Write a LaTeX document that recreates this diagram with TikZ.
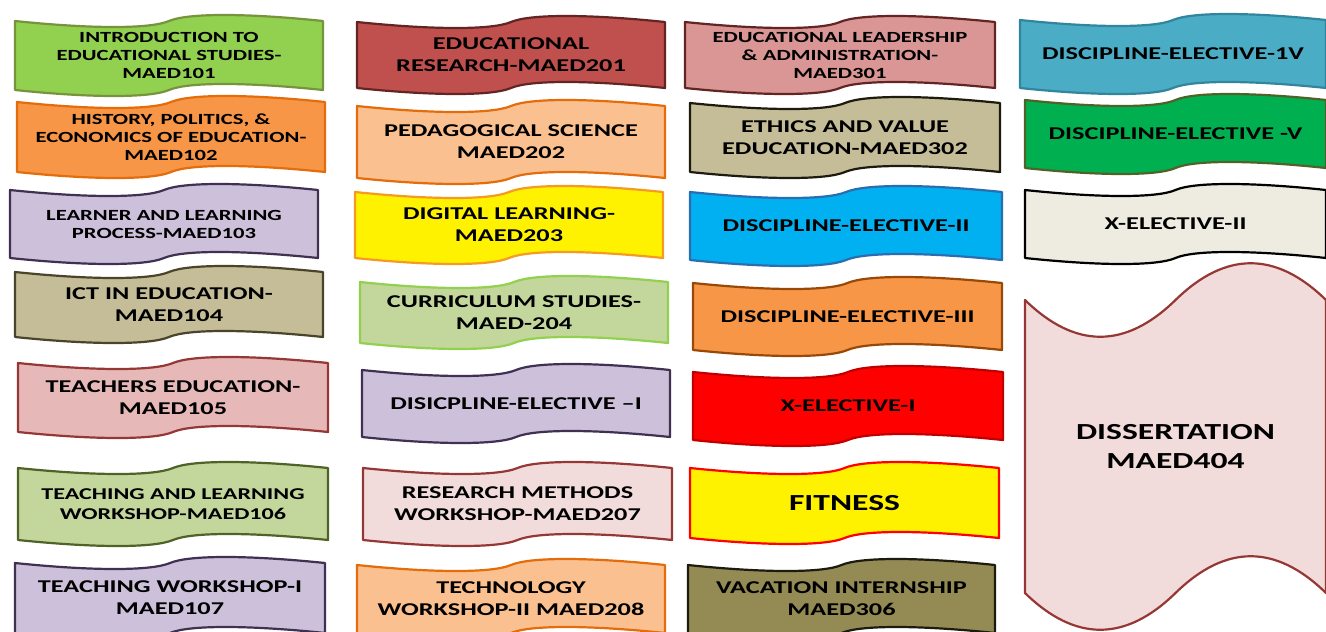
\documentclass[tikz,border=0pt]{standalone}
\usepackage{fontspec}
\setmainfont{Carlito}[FakeStretch=1.46]
\usetikzlibrary{calc}
\definecolor{introF}{HTML}{92D050}\definecolor{introD}{HTML}{77933C}
\definecolor{orgF}{HTML}{F79646}\definecolor{orgD}{HTML}{E46C0A}
\definecolor{lavF}{HTML}{CCC0DA}\definecolor{lavD}{HTML}{403152}
\definecolor{tanF}{HTML}{C4BD97}\definecolor{tanD}{HTML}{4A452A}
\definecolor{roseF}{HTML}{E6B9B8}\definecolor{roseD}{HTML}{953735}
\definecolor{oliveF}{HTML}{C3D69B}\definecolor{oliveD}{HTML}{4F6228}
\definecolor{redF}{HTML}{C0504D}\definecolor{redD}{HTML}{632523}
\definecolor{peachF}{HTML}{FAC090}
\definecolor{yelD}{HTML}{F59A23}
\definecolor{pinkF}{HTML}{F2DCDB}
\definecolor{salmF}{HTML}{D99694}
\definecolor{darkD}{HTML}{1D1B10}
\definecolor{skyF}{HTML}{00B0F0}\definecolor{skyD}{HTML}{2A6DB0}
\definecolor{brownD}{HTML}{984807}
\definecolor{xredD}{HTML}{C00000}
\definecolor{khakiF}{HTML}{948A54}
\definecolor{tealF}{HTML}{4BACC6}\definecolor{tealD}{HTML}{31859C}
\definecolor{grnF}{HTML}{00B050}
\definecolor{creamF}{HTML}{EEECE1}
\tikzset{
  tape/.style={line width=2.2pt,line join=round},
  lbl/.style={align=center,inner sep=0pt,font=\bfseries\fontsize{18}{22}\selectfont},
  lblmid/.style={font=\bfseries\fontsize{16.5}{20}\selectfont},
  lblsmall/.style={font=\bfseries\fontsize{15.5}{18}\selectfont},
  lblbig/.style={font=\bfseries\fontsize{23}{29}\selectfont},
}
% wave banner: name, left, top, right, bottom, fill, border, label style, text
\def\wa{8}\def\wc{0.25}\def\wn{0.06}
\newcommand{\wavebox}[9]{%
  \pgfmathsetmacro{\wM}{(#2+#4)/2}%
  \pgfmathsetmacro{\wq}{(#4-#2)*\wc}%
  \pgfmathsetmacro{\wr}{(#4-#2)*\wn}%
  \draw[tape,fill=#6,draw=#7] (#2,#3)
    .. controls ({#2+\wq},{#3+\wa}) and ({\wM-\wr},{#3+\wa}) .. (\wM,#3)
    .. controls ({\wM+\wr},{#3-\wa}) and ({#4-\wq},{#3-\wa}) .. (#4,#3)
    -- (#4,#5)
    .. controls ({#4-\wq},{#5-\wa}) and ({\wM+\wr},{#5-\wa}) .. (\wM,#5)
    .. controls ({\wM-\wr},{#5+\wa}) and ({#2+\wq},{#5+\wa}) .. (#2,#5)
    -- cycle;
  \node[lbl,#8] (#1) at (\wM,{(#3+#5)/2}) {#9};
}

\begin{document}
\begin{tikzpicture}[x=1pt,y=-1pt]
  \useasboundingbox (0,0) rectangle (1326,632);
  \clip (0,0) rectangle (1326,632);
  % first semester
  \wavebox{intro}{15}{21}{323}{90}{introF}{introD}{lblsmall}{INTRODUCTION TO\\EDUCATIONAL STUDIES-\\MAED101}
  \wavebox{history}{17}{102}{325}{172}{orgF}{orgD}{lblsmall}{HISTORY, POLITICS, \&\\ECONOMICS OF EDUCATION-\\MAED102}
  \wavebox{learner}{10}{190}{318}{258}{lavF}{lavD}{lblsmall}{LEARNER AND LEARNING\\PROCESS-MAED103}
  \wavebox{ict}{15}{272}{323}{337}{tanF}{tanD}{}{ICT IN EDUCATION-\\MAED104}
  \wavebox{teachers}{18}{363}{328}{432}{roseF}{roseD}{}{TEACHERS EDUCATION-\\MAED105}
  \wavebox{tlworkshop}{18}{468}{328}{540}{oliveF}{oliveD}{lblmid}{TEACHING AND LEARNING\\WORKSHOP-MAED106}
  \wavebox{tworkshop}{15}{563}{325}{633}{lavF}{lavD}{}{TEACHING WORKSHOP-I\\MAED107}
  % second semester
  \wavebox{research}{357}{22}{665}{88}{redF}{redD}{}{EDUCATIONAL\\RESEARCH-MAED201}
  \wavebox{pedagogy}{357}{106}{665}{178}{peachF}{orgD}{}{PEDAGOGICAL SCIENCE\\MAED202}
  \wavebox{digital}{355}{192}{663}{258}{yellow}{yelD}{}{DIGITAL LEARNING-\\MAED203}
  \wavebox{curriculum}{360}{282}{668}{343}{oliveF}{introF}{}{CURRICULUM STUDIES-\\MAED-204}
  \wavebox{elective1}{362}{370}{670}{437}{lavF}{lavD}{}{DISICPLINE-ELECTIVE –I}
  \wavebox{rmworkshop}{363}{468}{672}{540}{pinkF}{roseD}{}{RESEARCH METHODS\\WORKSHOP-MAED207}
  \wavebox{techworkshop}{357}{565}{665}{633}{peachF}{orgD}{}{TECHNOLOGY\\WORKSHOP-II MAED208}
  % third semester
  \wavebox{leadership}{685}{22}{995}{88}{salmF}{redD}{lblsmall}{EDUCATIONAL LEADERSHIP\\\& ADMINISTRATION-\\MAED301}
  \wavebox{ethics}{690}{103}{1000}{172}{tanF}{darkD}{}{ETHICS AND VALUE\\EDUCATION-MAED302}
  \wavebox{elective2}{690}{192}{1002}{260}{skyF}{skyD}{}{DISCIPLINE-ELECTIVE-II}
  \wavebox{elective3}{693}{283}{1002}{350}{orgF}{brownD}{}{DISCIPLINE-ELECTIVE-III}
  \wavebox{xelective1}{693}{372}{1003}{440}{red}{xredD}{}{X-ELECTIVE-I}
  \wavebox{fitness}{690}{468}{999}{538}{yellow}{red}{lblbig}{FITNESS}
  \wavebox{internship}{688}{565}{995}{633}{khakiF}{darkD}{}{VACATION INTERNSHIP\\MAED306}
  % fourth semester
  \wavebox{elective4}{1020}{20}{1326}{88}{tealF}{tealD}{}{DISCIPLINE-ELECTIVE-1V}
  \wavebox{elective5}{1025}{100}{1326}{168}{grnF}{oliveD}{}{DISCIPLINE-ELECTIVE -V}
  \wavebox{xelective2}{1025}{190}{1326}{258}{creamF}{black}{}{X-ELECTIVE-II}
  {\def\wa{49}\def\wc{0.1667}\def\wn{0.1667}
  \wavebox{dissertation}{1025}{300}{1326}{593}{pinkF}{roseD}{lblbig}{DISSERTATION\\MAED404}}
\end{tikzpicture}
\end{document}
